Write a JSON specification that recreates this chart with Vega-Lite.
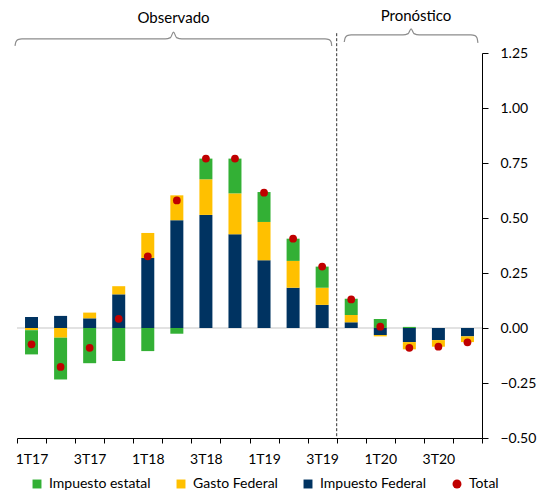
{
  "$schema": "https://vega.github.io/schema/vega-lite/v6.json",
  "width": 465,
  "height": 385,
  "autosize": {"type": "none"},
  "padding": {"left": 17, "top": 53, "right": 58, "bottom": 55},
  "background": "white",
  "config": {
    "font": "Lato",
    "view": {"stroke": null},
    "axis": {"labelFont": "Lato", "labelFontSize": 14, "labelColor": "#000000", "domainColor": "#000000", "tickColor": "#000000", "grid": false}
  },
  "datasets": {
    "comp": [
      {"q": "1T17", "serie": "Impuesto Federal", "v": 0.05},
      {"q": "1T17", "serie": "Gasto Federal", "v": -0.01},
      {"q": "1T17", "serie": "Impuesto estatal", "v": -0.11},
      {"q": "2T17", "serie": "Impuesto Federal", "v": 0.055},
      {"q": "2T17", "serie": "Gasto Federal", "v": -0.044},
      {"q": "2T17", "serie": "Impuesto estatal", "v": -0.19},
      {"q": "3T17", "serie": "Impuesto Federal", "v": 0.044},
      {"q": "3T17", "serie": "Gasto Federal", "v": 0.026},
      {"q": "3T17", "serie": "Impuesto estatal", "v": -0.16},
      {"q": "4T17", "serie": "Impuesto Federal", "v": 0.153},
      {"q": "4T17", "serie": "Gasto Federal", "v": 0.037},
      {"q": "4T17", "serie": "Impuesto estatal", "v": -0.15},
      {"q": "1T18", "serie": "Impuesto Federal", "v": 0.318},
      {"q": "1T18", "serie": "Gasto Federal", "v": 0.114},
      {"q": "1T18", "serie": "Impuesto estatal", "v": -0.105},
      {"q": "2T18", "serie": "Impuesto Federal", "v": 0.49},
      {"q": "2T18", "serie": "Gasto Federal", "v": 0.113},
      {"q": "2T18", "serie": "Impuesto estatal", "v": -0.026},
      {"q": "3T18", "serie": "Impuesto Federal", "v": 0.514},
      {"q": "3T18", "serie": "Gasto Federal", "v": 0.162},
      {"q": "3T18", "serie": "Impuesto estatal", "v": 0.094},
      {"q": "4T18", "serie": "Impuesto Federal", "v": 0.426},
      {"q": "4T18", "serie": "Gasto Federal", "v": 0.186},
      {"q": "4T18", "serie": "Impuesto estatal", "v": 0.158},
      {"q": "1T19", "serie": "Impuesto Federal", "v": 0.308},
      {"q": "1T19", "serie": "Gasto Federal", "v": 0.174},
      {"q": "1T19", "serie": "Impuesto estatal", "v": 0.136},
      {"q": "2T19", "serie": "Impuesto Federal", "v": 0.183},
      {"q": "2T19", "serie": "Gasto Federal", "v": 0.122},
      {"q": "2T19", "serie": "Impuesto estatal", "v": 0.101},
      {"q": "3T19", "serie": "Impuesto Federal", "v": 0.105},
      {"q": "3T19", "serie": "Gasto Federal", "v": 0.078},
      {"q": "3T19", "serie": "Impuesto estatal", "v": 0.096},
      {"q": "4T19", "serie": "Impuesto Federal", "v": 0.026},
      {"q": "4T19", "serie": "Gasto Federal", "v": 0.033},
      {"q": "4T19", "serie": "Impuesto estatal", "v": 0.074},
      {"q": "1T20", "serie": "Impuesto Federal", "v": -0.032},
      {"q": "1T20", "serie": "Gasto Federal", "v": -0.006},
      {"q": "1T20", "serie": "Impuesto estatal", "v": 0.041},
      {"q": "2T20", "serie": "Impuesto Federal", "v": -0.064},
      {"q": "2T20", "serie": "Gasto Federal", "v": -0.033},
      {"q": "2T20", "serie": "Impuesto estatal", "v": 0.005},
      {"q": "3T20", "serie": "Impuesto Federal", "v": -0.055},
      {"q": "3T20", "serie": "Gasto Federal", "v": -0.03},
      {"q": "3T20", "serie": "Impuesto estatal", "v": 0.0},
      {"q": "4T20", "serie": "Impuesto Federal", "v": -0.038},
      {"q": "4T20", "serie": "Gasto Federal", "v": -0.026},
      {"q": "4T20", "serie": "Impuesto estatal", "v": 0.0}
    ],
    "total": [
      {"q": "1T17", "serie": "Total", "v": -0.074},
      {"q": "2T17", "serie": "Total", "v": -0.177},
      {"q": "3T17", "serie": "Total", "v": -0.09},
      {"q": "4T17", "serie": "Total", "v": 0.042},
      {"q": "1T18", "serie": "Total", "v": 0.326},
      {"q": "2T18", "serie": "Total", "v": 0.58},
      {"q": "3T18", "serie": "Total", "v": 0.77},
      {"q": "4T18", "serie": "Total", "v": 0.77},
      {"q": "1T19", "serie": "Total", "v": 0.615},
      {"q": "2T19", "serie": "Total", "v": 0.406},
      {"q": "3T19", "serie": "Total", "v": 0.279},
      {"q": "4T19", "serie": "Total", "v": 0.13},
      {"q": "1T20", "serie": "Total", "v": 0.006},
      {"q": "2T20", "serie": "Total", "v": -0.09},
      {"q": "3T20", "serie": "Total", "v": -0.085},
      {"q": "4T20", "serie": "Total", "v": -0.065}
    ],
    "braces": [
      {"b": "obs", "u": -0.069, "y": 1.282},
      {"b": "obs", "u": -0.04, "y": 1.300},
      {"b": "obs", "u": 0.03, "y": 1.311},
      {"b": "obs", "u": 0.17, "y": 1.314},
      {"b": "obs", "u": 5.1, "y": 1.314},
      {"b": "obs", "u": 5.28, "y": 1.320},
      {"b": "obs", "u": 5.385, "y": 1.345},
      {"b": "obs", "u": 5.49, "y": 1.320},
      {"b": "obs", "u": 5.67, "y": 1.314},
      {"b": "obs", "u": 10.6, "y": 1.314},
      {"b": "obs", "u": 10.74, "y": 1.311},
      {"b": "obs", "u": 10.81, "y": 1.300},
      {"b": "obs", "u": 10.83, "y": 1.282},
      {"b": "pro", "u": 11.26, "y": 1.300},
      {"b": "pro", "u": 11.29, "y": 1.318},
      {"b": "pro", "u": 11.36, "y": 1.329},
      {"b": "pro", "u": 11.5, "y": 1.332},
      {"b": "pro", "u": 13.28, "y": 1.332},
      {"b": "pro", "u": 13.46, "y": 1.338},
      {"b": "pro", "u": 13.56, "y": 1.36},
      {"b": "pro", "u": 13.66, "y": 1.338},
      {"b": "pro", "u": 13.84, "y": 1.332},
      {"b": "pro", "u": 15.62, "y": 1.332},
      {"b": "pro", "u": 15.76, "y": 1.329},
      {"b": "pro", "u": 15.83, "y": 1.318},
      {"b": "pro", "u": 15.86, "y": 1.296}
    ],
    "labels": [
      {"t": "Observado", "u": 5.385, "y": 1.41},
      {"t": "Pronóstico", "u": 13.73, "y": 1.42}
    ]
  },
  "resolve": {"scale": {"x": "independent", "y": "independent"}, "axis": {"x": "independent", "y": "independent"}},
  "layer": [
    {
      "encoding": {
        "x": {
          "field": "q", "type": "nominal",
          "scale": {"domain": ["1T17","2T17","3T17","4T17","1T18","2T18","3T18","4T18","1T19","2T19","3T19","4T19","1T20","2T20","3T20","4T20"], "paddingInner": 0, "paddingOuter": 0},
          "axis": {"title": null, "labelAngle": 0, "tickBand": "extent", "tickSize": 5, "labelPadding": 9, "labelExpr": "(slice(datum.label,0,1)=='1'||slice(datum.label,0,1)=='3') ? datum.label : ''"}
        }
      },
      "layer": [
        {
          "data": {"values": [{"z": 0}]},
          "mark": {"type": "rule", "color": "#d9d9d9", "strokeWidth": 1.5},
          "encoding": {"x": null, "y": {"field": "z", "type": "quantitative", "scale": {"domain": [-0.5, 1.25], "nice": false, "zero": false}}}
        },
        {
          "data": {"name": "comp"},
          "transform": [{"calculate": "indexof(['Impuesto Federal','Gasto Federal','Impuesto estatal'], datum.serie)", "as": "ord"}],
          "mark": {"type": "bar", "size": 13},
          "encoding": {
            "y": {"field": "v", "type": "quantitative", "stack": "zero",
              "scale": {"domain": [-0.5, 1.25], "nice": false, "zero": false},
              "axis": {"orient": "right", "title": null, "values": [-0.5, -0.25, 0, 0.25, 0.5, 0.75, 1, 1.25], "format": ".2f", "tickSize": 6, "labelPadding": 12}},
            "color": {"field": "serie", "type": "nominal",
              "scale": {"domain": ["Impuesto estatal", "Gasto Federal", "Impuesto Federal", "Total"], "range": ["#33B035", "#FFC000", "#003361", "#C00000"]},
              "legend": {"title": null, "orient": "none", "legendX": 13, "legendY": 424, "direction": "horizontal", "columns": 4, "columnPadding": 23, "labelFontSize": 14, "labelFont": "Lato", "labelColor": "#000000", "symbolSize": 80, "labelOffset": 5, "symbolStrokeWidth": 0}},
            "order": {"field": "ord", "type": "quantitative"}
          }
        },
        {
          "data": {"name": "total"},
          "mark": {"type": "point", "filled": true, "size": 60, "opacity": 1},
          "encoding": {
            "y": {"field": "v", "type": "quantitative"},
            "color": {"field": "serie", "type": "nominal"},
            "shape": {"field": "serie", "type": "nominal",
              "scale": {"domain": ["Impuesto estatal", "Gasto Federal", "Impuesto Federal", "Total"], "range": ["square", "square", "square", "circle"]}}
          }
        },
        {
          "data": {"values": [{"q": "3T19", "y1": 1.34, "y2": -0.5}]},
          "mark": {"type": "rule", "color": "#303030", "strokeDash": [3, 2], "strokeWidth": 1},
          "encoding": {
            "x": {"field": "q", "type": "nominal", "bandPosition": 1},
            "y": {"field": "y1", "type": "quantitative"},
            "y2": {"field": "y2"}
          }
        }
      ]
    },
    {
      "encoding": {
        "x": {"field": "u", "type": "quantitative", "scale": {"domain": [0, 16], "nice": false, "zero": false}, "axis": null},
        "y": {"field": "y", "type": "quantitative", "scale": {"domain": [-0.5, 1.25], "nice": false, "zero": false}, "axis": null}
      },
      "layer": [
        {
          "data": {"name": "braces"},
          "mark": {"type": "line", "color": "#8c8c8c", "strokeWidth": 1.2, "interpolate": "monotone"},
          "encoding": {"detail": {"field": "b", "type": "nominal"}}
        },
        {
          "data": {"name": "labels"},
          "mark": {"type": "text", "fontSize": 15, "font": "Lato", "color": "#000000", "baseline": "middle", "align": "center"},
          "encoding": {"text": {"field": "t", "type": "nominal"}}
        }
      ]
    }
  ]
}
